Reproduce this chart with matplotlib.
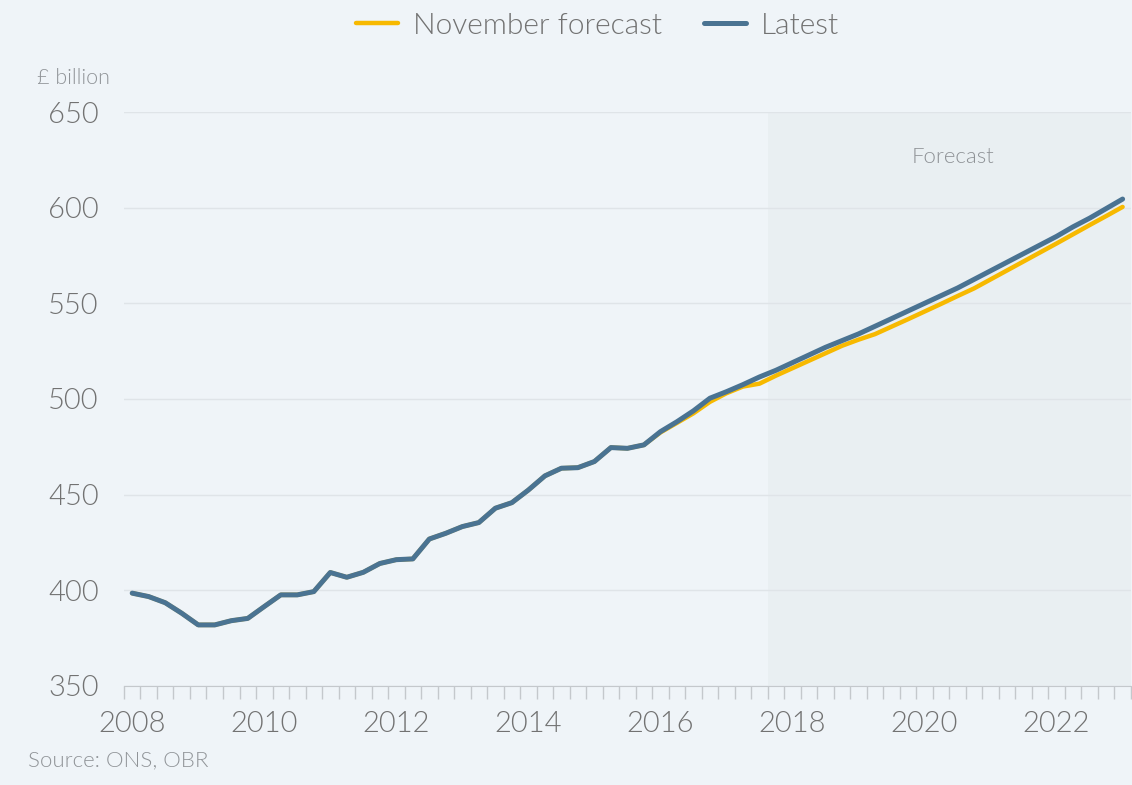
import matplotlib
matplotlib.use("Agg")
import matplotlib.pyplot as plt
from matplotlib.ticker import FixedLocator

# quarterly, 2008Q1 .. 2023Q1 (index 0..60)
years = list(range(2008, 2023, 2))
latest = [
    398.5, 396.7, 393.5, 388.0, 381.9, 381.9, 384.1, 385.3, 391.5, 397.6,
    397.6, 399.3, 409.3, 406.8, 409.4, 414.0, 416.0, 416.4, 426.8, 429.8,
    433.3, 435.4, 442.9, 445.8, 452.4, 459.8, 463.8, 464.1, 467.3, 474.6,
    474.2, 476.0, 482.9, 488.1, 493.8, 500.4, 503.8, 507.5, 511.5, 515.0,
    519.0, 523.0, 527.0, 530.5, 534.0, 538.0, 542.0, 546.0, 550.0, 554.0,
    558.0, 562.5, 567.0, 571.5, 576.0, 580.5, 585.0, 590.0, 594.5, 599.5,
    604.5,
]
november = latest[:32] + [
    482.5, 487.5, 492.5, 498.5, 503.0, 506.5, 508.0, 512.2, 516.1, 520.0,
    523.9, 527.8, 531.0, 533.9, 537.8, 541.7, 545.7, 549.7, 553.8, 557.8,
    562.5, 567.2, 571.9, 576.6, 581.3, 586.1, 590.9, 595.6, 600.4,
]
forecast_start = 38.5  # boundary before 2017Q4

bg = "#eff4f8"
shade = "#e9eff2"
grey = "#727272"
blue = "#4a7392"
yellow = "#f7b900"

plt.rcParams["font.family"] = ["Lato", "DejaVu Sans"]
plt.rcParams["font.weight"] = 300

fig = plt.figure(figsize=(11.32, 7.85), dpi=100)
fig.patch.set_facecolor(bg)
ax = fig.add_axes([0.1095, 0.1262, 0.8895, 0.7311])
ax.set_facecolor(bg)

x = list(range(len(latest)))
ax.axvspan(forecast_start, len(latest) - 0.5, color=shade, zorder=0, lw=0)
ax.plot(x, november, color=yellow, lw=3.2, solid_capstyle="round", zorder=3,
        label="November forecast")
ax.plot(x, latest, color=blue, lw=3.6, solid_capstyle="round", zorder=4,
        label="Latest")

ax.set_xlim(-0.5, len(latest) - 0.5)
ax.set_ylim(350, 650)
ax.set_yticks(range(350, 651, 50))
ax.yaxis.grid(True, color="#dfe4e8", lw=1)
ax.set_axisbelow(True)
ax.tick_params(axis="y", length=0, pad=18, labelsize=21, labelcolor=grey)

ax.set_xticks([(y - 2008) * 4 for y in years])
ax.set_xticklabels([str(y) for y in years])
ax.xaxis.set_minor_locator(FixedLocator([k - 0.5 for k in range(len(latest) + 1)]))
ax.tick_params(axis="x", which="major", length=0, pad=18, labelsize=21,
               labelcolor=grey)
ax.tick_params(axis="x", which="minor", length=9, width=1, color="#c4c8cc")

for s in ["top", "right", "left"]:
    ax.spines[s].set_visible(False)
ax.spines["bottom"].set_color("#c4c8cc")

ax.text(49.7, 626.5, "Forecast", ha="center", va="center", fontsize=16,
        color="#8e9296")

fig.text(0.033, 0.901, "£ billion", ha="left", va="center", fontsize=15.5,
         color="#909498")
fig.text(0.025, 0.032, "Source: ONS, OBR", ha="left", va="center", fontsize=16,
         color="#909498")

leg = fig.legend(loc="upper center", bbox_to_anchor=(0.528, 1.018), ncol=2,
                 frameon=False, fontsize=21.5, handlelength=1.4,
                 columnspacing=1.4, handletextpad=0.5)
for t in leg.get_texts():
    t.set_color(grey)

fig.savefig("out.png", dpi=100, facecolor=bg)
